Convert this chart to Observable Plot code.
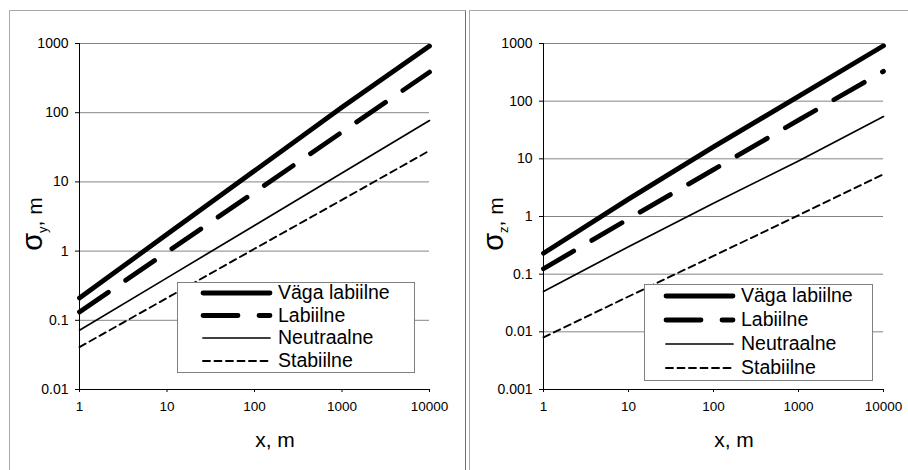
<!DOCTYPE html>
<html><head><meta charset="utf-8">
<script src="https://cdn.jsdelivr.net/npm/d3@7"></script>
<script src="https://cdn.jsdelivr.net/npm/@observablehq/plot@0.6"></script>
<style>
html,body{margin:0;padding:0;background:#fff;}
#wrap{position:relative;width:908px;height:470px;overflow:hidden;font-family:"Liberation Sans",Arial,sans-serif;}
.box{position:absolute;box-sizing:border-box;}
.chart{position:absolute;top:0;}
</style></head><body>
<div id="wrap">
 <div class="box" style="left:9px;top:10px;width:457px;height:480px;border-left:1px solid #a8a8a8;border-top:1px solid #a8a8a8;border-right:1px solid #6e6e6e;"></div>
 <div class="box" style="left:469px;top:10px;width:460px;height:480px;border-left:1px solid #a8a8a8;border-top:1px solid #a8a8a8;"></div>
 <div id="left" class="chart" style="left:0"></div>
 <div id="right" class="chart" style="left:454px"></div>
</div>
<script>
// ---- data ----
const distances = [1, 10, 100, 1000, 10000];
const xTicks = [1, 10, 100, 1000, 10000];
const seriesNames = ["Väga labiilne", "Labiilne", "Neutraalne", "Stabiilne"];
const sigmaY_vagaLabiilne = [0.21, 1.75, 14.5, 120, 920];
const sigmaY_labiilne = [0.132, 0.97, 7.1, 52.5, 386];
const sigmaY_neutraalne = [0.072, 0.41, 2.35, 13.4, 77];
const sigmaY_stabiilne = [0.041, 0.21, 1.08, 5.5, 28.3];
const sigmaZ_vagaLabiilne = [0.23, 2.0, 16.1, 121, 912];
const sigmaZ_labiilne = [0.124, 0.91, 6.5, 47, 329];
const sigmaZ_neutraalne = [0.05, 0.30, 1.7, 9.2, 54];
const sigmaZ_stabiilne = [0.008, 0.041, 0.207, 1.05, 5.4];
const yTicksLeft = [0.01, 0.1, 1, 10, 100, 1000];
const yTicksRight = [0.001, 0.01, 0.1, 1, 10, 100, 1000];
const xTitle = "x, m";
const yTitleSub = ["y", "z"];

// ---- styles ----
const FONT = '"Liberation Sans", Arial, sans-serif';
const lineStyles = [
  {strokeWidth: 4.8, dash: null},
  {strokeWidth: 4.8, dash: "35,21"},
  {strokeWidth: 1.7, dash: null},
  {strokeWidth: 1.9, dash: "7,4.5"}
];

function makeChart(el, yTicks, seriesValues, opts) {
  const tables = seriesValues.map((vals, i) => distances.map((d, j) => ({x: d, y: vals[j], s: seriesNames[i]})));
  const W = 454, H = 470;
  const svg = Plot.plot({
    width: W, height: H,
    marginLeft: opts.ml, marginRight: 25, marginTop: 43, marginBottom: 81,
    style: {background: "transparent", fontFamily: FONT, color: "#000"},
    x: {type: "log", domain: [xTicks[0], xTicks[xTicks.length - 1]]},
    y: {type: "log", domain: [yTicks[0], yTicks[yTicks.length - 1]]},
    marks: [
      Plot.ruleY(yTicks.slice(1), {stroke: "#858585", strokeWidth: 1}),
      Plot.ruleY([yTicks[0]], {stroke: "#000", strokeWidth: 1}),
      Plot.ruleX([xTicks[0]], {stroke: "#000", strokeWidth: 1}),
      Plot.axisY({ticks: yTicks, tickSize: 4, tickPadding: 7, tickFormat: d => String(d), fontSize: 14, label: null}),
      Plot.axisX({ticks: xTicks, tickSize: 3, tickPadding: 9, tickFormat: d => String(d), fontSize: 13.5, label: null}),
      ...tables.map((t, i) => Plot.line(t, {
        x: "x", y: "y", stroke: "#000",
        strokeWidth: lineStyles[i].strokeWidth,
        strokeDasharray: lineStyles[i].dash,
        strokeLinecap: "round", strokeLinejoin: "round"
      }))
    ]
  });
  const s = d3.select(svg);
  const fx0 = opts.ml, fx1 = W - 25;
  // x title
  s.append("text").attr("x", (fx0 + fx1) / 2 + 21).attr("y", 447)
    .attr("text-anchor", "middle").attr("font-size", 21).attr("font-family", FONT).text(xTitle);
  // y title
  const yt = s.append("text").attr("transform", `translate(${fx0 - opts.yTitleOff},224) rotate(-90)`)
    .attr("text-anchor", "middle").attr("font-family", FONT).attr("font-size", 21);
  yt.append("tspan").attr("font-size", 29).text("σ");
  yt.append("tspan").attr("font-size", 13).attr("dy", 5).text(opts.sub);
  yt.append("tspan").attr("dy", -5).text(", m");
  // legend
  const L = opts.legend;
  const g = s.append("g");
  g.append("rect").attr("x", L.x0 + 0.5).attr("y", L.y0 + 0.5).attr("width", L.x1 - L.x0).attr("height", L.y1 - L.y0)
    .attr("fill", "#fff").attr("stroke", "#808080").attr("stroke-width", 1);
  seriesNames.forEach((name, i) => {
    const cy = L.rows[i];
    const ln = g.append("line").attr("x1", L.s0).attr("x2", L.s1).attr("y1", cy).attr("y2", cy)
      .attr("stroke", "#000").attr("stroke-width", lineStyles[i].strokeWidth).attr("stroke-linecap", "round");
    if (lineStyles[i].dash) ln.attr("stroke-dasharray", lineStyles[i].dash);
    g.append("text").attr("x", L.t).attr("y", cy).attr("dy", "0.33em").attr("font-size", 19.5)
      .attr("text-anchor", "start").attr("font-family", FONT).text(name);
  });
  document.getElementById(el).appendChild(svg);
}

makeChart("left", yTicksLeft,
  [sigmaY_vagaLabiilne, sigmaY_labiilne, sigmaY_neutraalne, sigmaY_stabiilne],
  {ml: 79, sub: yTitleSub[0], yTitleOff: 37,
   legend: {x0: 177, y0: 282, x1: 414, y1: 372, s0: 203, s1: 270, t: 278, rows: [293, 315.5, 338, 361]}});
makeChart("right", yTicksRight,
  [sigmaZ_vagaLabiilne, sigmaZ_labiilne, sigmaZ_neutraalne, sigmaZ_stabiilne],
  {ml: 89, sub: yTitleSub[1], yTitleOff: 40,
   legend: {x0: 190, y0: 284, x1: 418, y1: 380, s0: 212, s1: 279, t: 287, rows: [296, 320, 344, 368]}});
</script>
</body></html>
